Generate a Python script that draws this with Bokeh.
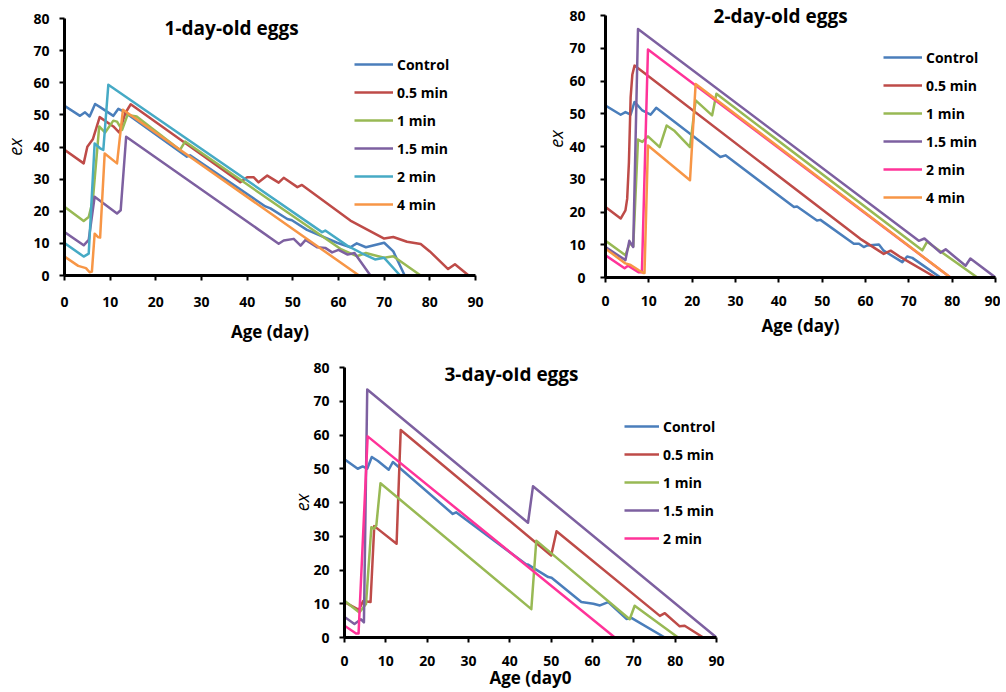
from bokeh.plotting import figure
from bokeh.models import Range1d, FixedTicker, Legend, LegendItem, Label, Spacer
from bokeh.layouts import row, column
from bokeh.embed import file_html
from bokeh.resources import INLINE

# ---------------- data ----------------
series_names_1 = ["Control", "0.5 min", "1 min", "1.5 min", "2 min", "4 min"]
series_names_2 = ["Control", "0.5 min", "1 min", "1.5 min", "2 min", "4 min"]
series_names_3 = ["Control", "0.5 min", "1 min", "1.5 min", "2 min"]

# Panel 1: 1-day-old eggs
ctrl1_x = [0, 3.4, 4.5, 5.5, 6.7, 7.8, 10.7, 11.8, 12.8, 26.8, 27.5, 44.0, 45.1, 48.8, 49.8, 53.1, 59.7, 62.6, 64.0, 66.0, 68.0, 70.0, 72.0, 74.5]
ctrl1_y = [52.8, 49.7, 50.8, 49.5, 53.4, 52.4, 49.7, 51.9, 51.2, 37.0, 37.4, 21.5, 20.9, 17.6, 17.2, 14.2, 10.2, 8.8, 10.0, 8.8, 9.5, 10.2, 7.5, 0]
red1_x = [0, 4.2, 5.0, 6.2, 7.7, 10.7, 12.0, 13.3, 14.5, 38.5, 40.0, 41.4, 42.5, 44.4, 46.9, 48.0, 51.0, 52.0, 62.6, 70, 72, 75, 78, 80, 84, 85.5, 88.5]
red1_y = [39.1, 34.9, 40.1, 42.4, 49.3, 46.4, 44.5, 50.5, 53.3, 29.0, 30.6, 30.6, 29.0, 31.1, 28.9, 30.4, 27.5, 28.2, 17.1, 11.5, 12, 10.5, 9.8, 7.5, 2.0, 3.5, 0]
green1_x = [0, 4.2, 5.3, 6.2, 7.6, 8.9, 10.7, 11.5, 12.6, 13.8, 15.8, 25.3, 26.4, 60.4, 64, 66, 70, 72, 78]
green1_y = [21.4, 17.0, 18.2, 23.4, 46.4, 44.5, 48.2, 47.9, 45.3, 50.0, 49.5, 39.1, 41.7, 8.3, 6, 7, 5.5, 6, 0]
purple1_x = [0, 4.2, 5.3, 6.6, 11.5, 12.3, 13.5, 46.9, 48.0, 50.2, 51.7, 52.8, 55.3, 57.1, 58.6, 60, 62, 63.5, 67]
purple1_y = [13.5, 9.4, 11.1, 24.5, 19.3, 20.3, 43.2, 9.9, 10.9, 11.4, 9.3, 11.1, 8.8, 8.6, 7.2, 8, 6.5, 7, 0]
cyan1_x = [0, 4.2, 5.3, 6.6, 7.8, 8.5, 9.6, 56.4, 57.1, 61.9, 65, 68, 70, 73.5]
cyan1_y = [10.1, 5.9, 6.8, 41.1, 39.6, 39.1, 59.4, 13.5, 14.0, 9.3, 7, 5, 5.5, 0]
orange1_x = [0, 3.0, 4.7, 5.5, 6.0, 6.6, 7.3, 7.8, 8.8, 11.5, 12.8, 64.5]
orange1_y = [5.9, 3.0, 2.3, 1.0, 1.2, 13.0, 12.0, 11.8, 38.0, 34.9, 51.6, 0]

# Panel 2: 2-day-old eggs
ctrl2_x = [0, 3.5, 4.6, 5.8, 6.7, 8.5, 10.4, 11.7, 26.5, 27.7, 43.5, 44.2, 48.8, 49.6, 57.3, 58.5, 59.6, 60.4, 63.1, 64.2, 68.5, 69.6, 70.8, 77.3]
ctrl2_y = [52.5, 49.7, 50.5, 49.7, 53.6, 51.0, 49.7, 51.8, 36.8, 37.3, 21.5, 21.7, 17.4, 17.6, 10.3, 10.3, 9.3, 9.8, 10.1, 8.2, 4.7, 6.4, 6.0, 0]
red2_x = [0, 3.5, 4.6, 5.0, 5.4, 5.8, 6.2, 6.7, 58.8, 64.2, 65.8, 68.1, 76.2]
red2_y = [21.5, 18.0, 20.5, 24.0, 35.0, 55.0, 62.0, 64.7, 11.8, 7.2, 8.2, 6.2, 0]
green2_x = [0, 4.6, 5.6, 6.4, 7.5, 8.5, 9.8, 12.5, 14.1, 15.8, 19.5, 20.8, 24.6, 25.6, 73.1, 74.2, 85.8]
green2_y = [11.2, 6.8, 10.5, 9.5, 42.1, 41.4, 43.1, 39.8, 46.4, 44.9, 39.8, 54.1, 49.5, 56.1, 8.3, 10.9, 0]
purple2_x = [0, 4.6, 5.5, 6.4, 7.5, 72.3, 73.6, 77.3, 78.5, 83.1, 84.2, 90]
purple2_y = [9.3, 5.3, 11.2, 9.3, 75.9, 11.2, 11.9, 7.6, 8.6, 3.6, 5.8, 0]
pink2_x = [0, 4.4, 5.2, 7.6, 8.4, 9.8, 79.6]
pink2_y = [6.8, 2.8, 3.6, 1.6, 1.6, 69.6, 0]
orange2_x = [0, 4.6, 5.8, 7.7, 8.7, 9.0, 9.8, 19.5, 20.8, 79.6]
orange2_y = [8.8, 4.3, 3.8, 2.2, 1.4, 1.4, 40.3, 29.7, 59.1, 0]

# Panel 3: 3-day-old eggs
ctrl3_x = [0, 3.2, 4.4, 5.5, 6.6, 8.1, 10.7, 11.7, 26.2, 27.0, 44.0, 44.4, 49.3, 50.1, 57.3, 60.2, 61.8, 63.8, 68.2, 69.4, 77.5]
ctrl3_y = [52.8, 50.0, 50.7, 50.0, 53.5, 52.3, 49.7, 52.0, 36.6, 37.1, 21.6, 21.6, 17.9, 17.7, 10.5, 10.0, 9.5, 10.5, 5.5, 5.8, 0]
red3_x = [0, 3.5, 4.5, 6.3, 7.2, 12.6, 13.6, 50.0, 51.3, 76.3, 77.5, 81.1, 82.3, 86.8]
red3_y = [10.5, 8.2, 10.8, 10.5, 33.0, 27.8, 61.5, 24.3, 31.5, 6.4, 7.2, 3.3, 3.5, 0]
green3_x = [0, 3.6, 5.2, 6.5, 7.1, 7.7, 8.7, 45.2, 46.4, 69.0, 70.2, 80.7]
green3_y = [10.9, 7.4, 9.9, 32.7, 32.2, 33.2, 45.7, 8.4, 28.7, 5.4, 9.4, 0]
purple3_x = [0, 2.4, 4.0, 4.7, 5.5, 44.4, 45.6, 90]
purple3_y = [6.1, 4.0, 5.4, 4.5, 73.5, 34.0, 44.8, 0]
pink3_x = [0, 2.8, 3.4, 5.6, 65.4]
pink3_y = [3.5, 1.2, 1.2, 59.6, 0]

x_ticks = [0, 10, 20, 30, 40, 50, 60, 70, 80, 90]
y_ticks = [0, 10, 20, 30, 40, 50, 60, 70, 80]

C_BLUE = "#4A7EBB"
C_RED = "#BE4B48"
C_GREEN = "#98B954"
C_PURPLE = "#7D60A0"
C_CYAN = "#46AAC5"
C_PINK = "#FF3399"
C_ORANGE = "#F79646"

FONT = "Open Sans"


def make_fig(fw, fh, bl, br, bt, bb, xs1, xs2, ys1, ys2, xlabel, ytop=80):
    p = figure(frame_width=fw, frame_height=fh,
               min_border_left=bl, min_border_right=br,
               min_border_top=bt, min_border_bottom=bb,
               x_range=Range1d(0, 90), y_range=Range1d(0, ytop),
               output_backend="svg", toolbar_location=None)
    p.xgrid.visible = False
    p.ygrid.visible = False
    p.outline_line_color = None
    p.background_fill_color = "white"
    p.border_fill_color = "white"
    for ax in (p.xaxis[0], p.yaxis[0]):
        ax.axis_line_width = 3
        ax.axis_line_color = "black"
        ax.major_tick_line_width = 2
        ax.major_tick_line_color = "black"
        ax.major_tick_out = 5
        ax.major_tick_in = 0
        ax.minor_tick_out = 0
        ax.minor_tick_in = 0
        ax.major_label_text_font = FONT
        ax.major_label_text_font_style = "bold"
        ax.major_label_text_font_size = "14px"
        ax.major_label_text_color = "black"
    p.xaxis.ticker = FixedTicker(ticks=x_ticks)
    p.yaxis.ticker = FixedTicker(ticks=y_ticks)
    p.yaxis.bounds = (0, 80)
    p.xaxis.major_label_standoff = xs1
    p.xaxis.axis_label = xlabel
    p.xaxis.axis_label_standoff = xs2
    p.xaxis.axis_label_text_font = FONT
    p.xaxis.axis_label_text_font_style = "bold"
    p.xaxis.axis_label_text_font_size = "17px"
    p.xaxis.axis_label_text_color = "black"
    p.yaxis.major_label_standoff = ys1
    p.yaxis.axis_label = "ex"
    p.yaxis.axis_label_standoff = ys2
    p.yaxis.axis_label_text_font = FONT
    p.yaxis.axis_label_text_font_style = "italic"
    p.yaxis.axis_label_text_font_size = "18px"
    p.yaxis.axis_label_text_color = "black"
    return p


def add_series(p, xs_list, ys_list, colors, names, leg_x, leg_y, glyph_w):
    items = []
    for xs, ys, c, n in zip(xs_list, ys_list, colors, names):
        r = p.line(xs, ys, line_color=c, line_width=2.5, line_join="round")
        items.append(LegendItem(label=n, renderers=[r]))
    leg = Legend(items=items, location=(leg_x, leg_y), orientation="vertical",
                 glyph_width=glyph_w, glyph_height=20, label_height=20,
                 label_standoff=4, spacing=8, padding=0, margin=0,
                 border_line_color=None, background_fill_alpha=0,
                 label_text_font=FONT, label_text_font_style="bold",
                 label_text_font_size="14px", label_text_color="black")
    p.add_layout(leg)


def add_title(p, x, y, text):
    p.add_layout(Label(x=x, y=y, text=text, text_align="center", text_baseline="middle",
                       text_font=FONT, text_font_style="bold", text_font_size="19px",
                       text_color="black"))


# Panel 1
p1 = make_fig(411, 257, 64, 12, 18, 75, 16, 10, 10, 3, "Age (day)")
add_series(p1,
           [ctrl1_x, red1_x, green1_x, purple1_x, cyan1_x, orange1_x],
           [ctrl1_y, red1_y, green1_y, purple1_y, cyan1_y, orange1_y],
           [C_BLUE, C_RED, C_GREEN, C_PURPLE, C_CYAN, C_ORANGE],
           series_names_1, 290, 61, 39)
add_title(p1, 36.6, 76.9, "1-day-old eggs")

# Panel 2 (frame extends to the top edge so the title is not clipped; axis drawn 0-80)
p2 = make_fig(390, 277, 118, 5, 0, 73, 13, 5, 15, -2, "Age (day)", ytop=80 * 277 / 262)
add_series(p2,
           [ctrl2_x, red2_x, green2_x, purple2_x, pink2_x, orange2_x],
           [ctrl2_y, red2_y, green2_y, purple2_y, pink2_y, orange2_y],
           [C_BLUE, C_RED, C_GREEN, C_PURPLE, C_PINK, C_ORANGE],
           series_names_2, 278, 70, 39)
add_title(p2, 40.4, 79.7, "2-day-old eggs")

# Panel 3
p3 = make_fig(372, 270, 56, 12, 17, 55, 13, -3, 10, -4, "Age (day0")
add_series(p3,
           [ctrl3_x, red3_x, green3_x, purple3_x, pink3_x],
           [ctrl3_y, red3_y, green3_y, purple3_y, pink3_y],
           [C_BLUE, C_RED, C_GREEN, C_PURPLE, C_PINK],
           series_names_3, 280, 89, 35)
add_title(p3, 40.4, 78.2, "3-day-old eggs")

layout = column(row(column(p1), column(p2)), row(Spacer(width=287, height=10), p3))

open("out.html", "w").write(file_html(layout, INLINE))
